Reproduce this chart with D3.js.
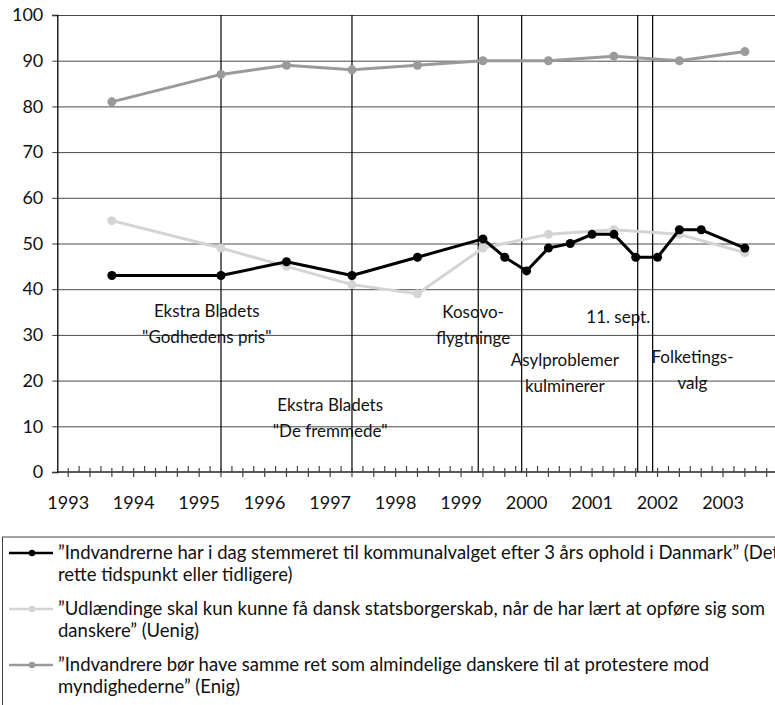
<html>
<head>
<meta charset="utf-8">
<script src="https://d3js.org/d3.v7.min.js"></script>
<style>
body { margin: 0; background: #fff; font-family: Lato, 'DejaVu Sans', sans-serif; }
svg text { font-family: Lato, 'DejaVu Sans', sans-serif; fill: #111; }
.grid line { stroke: #4a4a4a; stroke-width: 1; }
.event { stroke: #000; stroke-width: 1.2; }
</style>
</head>
<body>
<div id="chart"></div>
<script>

// period index along the x axis (one step = one tick)
var yearLabels = ["1993", "1994", "1995", "1996", "1997", "1998", "1999", "2000", "2001", "2002", "2003"];
var yearLabelPeriods = [1, 7, 13, 19, 25, 31, 37, 43, 49, 55, 61];

var stemmeretPeriods = [5, 15, 21, 27, 33, 39, 41, 43, 45, 47, 49, 51, 53, 55, 57, 59, 63];
var stemmeretValues  = [43, 43, 46, 43, 47, 51, 47, 44, 49, 50, 52, 52, 47, 47, 53, 53, 49];

var surveyPeriods = [5, 15, 21, 27, 33, 39, 45, 51, 57, 63];
var statsborgerValues = [55, 49, 45, 41, 39, 49, 52, 53, 52, 48];
var protestValues     = [81, 87, 89, 88, 89, 90, 90, 91, 90, 92];

var eventPeriods = [15, 27, 38.57, 42.55, 53.18, 54.55];

var annotationTexts = [
  ["Ekstra Bladets", "\"Godhedens pris\""],
  ["Ekstra Bladets", "\"De fremmede\""],
  ["Kosovo-", "flygtninge"],
  ["11. sept."],
  ["Asylproblemer", "kulminerer"],
  ["Folketings-", "valg"]
];
var annotationPeriods = [13.7, 25.0, 38.1, 51.4, 46.5, 58.2];
var annotationValues  = [35.2, 14.7, 35.0, 33.9, 24.5, 25.2];

var legendTexts = [
  ["\u201DIndvandrerne har i dag stemmeret til kommunalvalget efter 3 \u00E5rs ophold i Danmark\u201D (Det", "rette tidspunkt eller tidligere)"],
  ["\u201DUdl\u00E6ndinge skal kun kunne f\u00E5 dansk statsborgerskab, n\u00E5r de har l\u00E6rt at opf\u00F8re sig som", "danskere\u201D (Uenig)"],
  ["\u201DIndvandrere b\u00F8r have samme ret som almindelige danskere til at protestere mod", "myndighederne\u201D (Enig)"]
];

var width = 775, height = 705;
var plotLeft = 57.3, plotRight = 775, plotTop = 15, plotBottom = 472;

var svg = d3.select("#chart").append("svg")
  .attr("width", width).attr("height", height);

var x = d3.scaleLinear().domain([0, 65]).range([plotLeft, 766.7]);
var y = d3.scaleLinear().domain([0, 100]).range([plotBottom, plotTop]);

// horizontal gridlines
svg.append("g").attr("class", "grid")
  .attr("transform", "translate(" + plotLeft + ",0)")
  .call(d3.axisLeft(y).tickValues(d3.range(10, 101, 10)).tickSize(-(plotRight - plotLeft)).tickFormat(""))
  .call(function (g) { g.select(".domain").remove(); });

// event lines
svg.selectAll("line.event").data(eventPeriods).enter().append("line")
  .attr("class", "event")
  .attr("x1", function (d) { return x(d); }).attr("x2", function (d) { return x(d); })
  .attr("y1", y(100)).attr("y2", y(0));

// y axis
var yAxis = svg.append("g")
  .attr("transform", "translate(" + plotLeft + ",0)")
  .call(d3.axisLeft(y).tickValues(d3.range(0, 101, 10)).tickSize(5).tickPadding(9));
yAxis.select(".domain").attr("stroke", "#000").attr("stroke-width", 1.3);
yAxis.selectAll(".tick line").attr("stroke", "#333");
yAxis.selectAll("text").style("font-size", "18px").attr("fill", "#111");

// x axis: long ticks down at odd periods, short ticks up at even periods
var xAxis = svg.append("g");
xAxis.append("line")
  .attr("x1", plotLeft).attr("x2", plotRight)
  .attr("y1", plotBottom).attr("y2", plotBottom)
  .attr("stroke", "#222").attr("stroke-width", 1.4);
xAxis.selectAll("line.tk").data(d3.range(1, 66)).enter().append("line")
  .attr("class", "tk")
  .attr("x1", function (d) { return x(d); }).attr("x2", function (d) { return x(d); })
  .attr("y1", function (d) { return d % 2 ? plotBottom - 4 : plotBottom - 6; })
  .attr("y2", function (d) { return d % 2 ? plotBottom + 5 : plotBottom; })
  .attr("stroke", "#444").attr("stroke-width", 1.2);
xAxis.selectAll("text").data(yearLabels).enter().append("text")
  .attr("x", function (d, i) { return x(yearLabelPeriods[i]); })
  .attr("y", 509)
  .attr("text-anchor", "middle")
  .style("font-size", "18px")
  .text(function (d) { return d; });

// annotations
annotationTexts.forEach(function (lines, i) {
  var t = svg.append("text")
    .attr("text-anchor", "middle")
    .style("font-size", "17px");
  lines.forEach(function (line, j) {
    t.append("tspan")
      .attr("x", x(annotationPeriods[i]))
      .attr("y", y(annotationValues[i]) + j * 26)
      .attr("dy", "0.35em")
      .text(line);
  });
});

// series
var series = [
  { periods: surveyPeriods, values: protestValues, color: "#9a9a9a" },
  { periods: surveyPeriods, values: statsborgerValues, color: "#d4d4d4" },
  { periods: stemmeretPeriods, values: stemmeretValues, color: "#000" }
];

var line = d3.line()
  .x(function (d) { return x(d[0]); })
  .y(function (d) { return y(d[1]); });

series.forEach(function (s) {
  var pts = s.periods.map(function (p, i) { return [p, s.values[i]]; });
  svg.append("path")
    .attr("d", line(pts))
    .attr("fill", "none")
    .attr("stroke", s.color)
    .attr("stroke-width", 3)
    .attr("stroke-linejoin", "round");
  svg.append("g").selectAll("circle").data(pts).enter().append("circle")
    .attr("cx", function (d) { return x(d[0]); })
    .attr("cy", function (d) { return y(d[1]); })
    .attr("r", 4.5)
    .attr("fill", s.color);
});

// legend
var legendColors = ["#000", "#d4d4d4", "#9a9a9a"];
var legendTop = [553, 609, 665];

svg.append("rect")
  .attr("x", 2.5).attr("y", 537)
  .attr("width", 800).attr("height", 200)
  .attr("fill", "none").attr("stroke", "#444").attr("stroke-width", 1);

legendTexts.forEach(function (lines, i) {
  var g = svg.append("g");
  g.append("line")
    .attr("x1", 9).attr("x2", 53)
    .attr("y1", legendTop[i]).attr("y2", legendTop[i])
    .attr("stroke", legendColors[i]).attr("stroke-width", 2.5);
  g.append("circle")
    .attr("cx", 32).attr("cy", legendTop[i]).attr("r", 3.2)
    .attr("fill", legendColors[i]);
  lines.forEach(function (l, j) {
    g.append("text")
      .attr("x", 58)
      .attr("y", legendTop[i] + j * 22)
      .attr("dy", "0.35em")
      .style("font-size", "18.5px")
      .text(l);
  });
});

</script>
</body>
</html>
